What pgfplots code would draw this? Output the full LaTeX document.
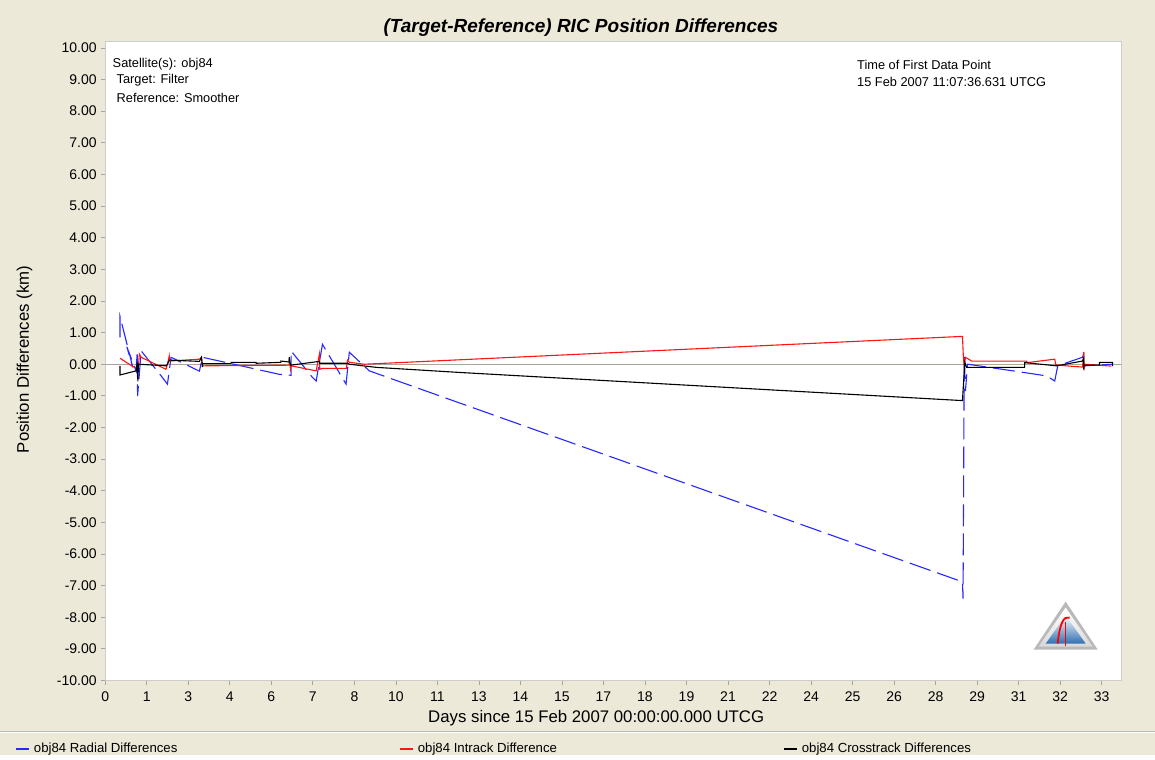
\documentclass[border=0pt]{standalone}
\usepackage{fontspec}
\setmainfont{Liberation Sans}
\usepackage{pgfplots}
\pgfplotsset{compat=1.18}
\definecolor{xpbg}{HTML}{ECE9D8}
\definecolor{zeroline}{HTML}{A9A79C}
\definecolor{radial}{HTML}{2828FF}
\definecolor{intrack}{HTML}{FF1414}
\definecolor{logoblue}{HTML}{2E6FB0}

\begin{document}
\begin{tikzpicture}[x=0.5pt,y=0.5pt]
% window background and the groove above the legend
\fill[xpbg] (0,0) rectangle (1155,756);
\draw[gray!55] (0,24) -- (1155,24);
\draw[white] (0,23) -- (1155,23);

\begin{axis}[at={(52.5pt,37.5pt)}, anchor=south west,
  scale only axis, width=508.5pt, height=320pt,
  xmin=0, xmax=34.03, ymin=-10, ymax=10.22,
  axis background/.style={fill=white},
  axis line style={draw=gray!40},
  tick align=outside, xtick pos=left, ytick pos=left,
  major tick length=2pt,
  tick style={gray!70, line width=0.4pt},
  /pgf/number format/assume math mode=true,
  ticklabel style={font=\fontsize{7}{8}\selectfont},
  ytick={-10,-9,...,10},
  yticklabel style={xshift=1.2pt, /pgf/number format/fixed, /pgf/number format/fixed zerofill, /pgf/number format/precision=2},
  xtick={0,1.39,2.78,4.17,5.56,6.95,8.34,9.73,11.12,12.51,13.90,15.29,16.68,18.07,19.46,20.85,22.24,23.63,25.02,26.41,27.80,29.19,30.58,31.97,33.36},
  xticklabels={0,1,3,4,6,7,8,10,11,13,14,15,17,18,19,21,22,24,25,26,28,29,31,32,33},
  clip mode=individual,
  legend style={at={(-0.0885,-0.107)}, anchor=west, draw=none, fill=none,
    legend columns=3, inner sep=0pt, font=\fontsize{6.6}{7.5}\selectfont,
    /tikz/every even column/.append style={column sep=0pt}},
  legend image code/.code={\draw[#1, solid, line width=0.6pt] (0pt,0pt) -- (6.5pt,0pt);},
]
% zero line
\addplot[zeroline, line width=0.5pt, forget plot] coordinates {(0,0) (34.03,0)};

% radial
\addplot[radial, line width=0.55pt, dash pattern=on 11pt off 3.5pt] coordinates {
(0.49,0.85) (0.49,1.52) (0.92,-0.10) (0.72,0.55) (1.03,-0.21) (1.07,0.41) (1.08,-1.01)
(1.20,0.42) (1.87,-0.37) (2.08,-0.63) (2.20,0.22) (2.87,-0.09) (3.15,-0.22) (3.25,0.22)
(5.83,-0.32) (6.22,-0.35) (6.22,0.42) (6.93,-0.41) (7.06,-0.53) (7.27,0.63) (8.06,-0.63)
(8.17,0.38) (8.84,-0.21) (28.70,-6.88) (28.72,-7.41) (28.76,0.30) (28.80,-0.85) (28.87,0.0)
(30.61,-0.24) (31.52,-0.37) (31.79,-0.53) (31.89,-0.05) (32.72,0.22) (32.76,0.32)
(32.77,-0.16) (32.79,-0.05) (33.73,0.0)};
\addlegendentry{\makebox[181pt][l]{obj84 Radial Differences}}

% intrack
\addplot[intrack, line width=0.55pt] coordinates {
(0.49,0.19) (0.90,-0.06) (1.10,-0.16) (1.14,0.32) (1.20,0.22) (2.03,-0.16) (2.08,0.0)
(2.14,0.26) (2.15,0.10) (3.15,0.16) (3.22,0.22) (3.25,-0.06) (3.32,-0.05) (6.16,-0.03)
(6.16,0.16) (6.20,-0.16) (6.22,-0.05) (7.06,-0.21) (7.17,0.32) (7.18,-0.16) (7.27,-0.13)
(8.07,-0.13) (8.11,0.13) (8.17,0.06) (8.67,0.0) (28.70,0.88) (28.73,0.25) (28.76,-0.09)
(28.80,0.22) (29.01,0.10) (30.85,0.10) (30.86,0.05) (31.79,0.16) (31.82,0.0) (31.89,-0.03)
(32.72,-0.09) (32.76,0.38) (32.77,-0.19) (32.79,0.0) (33.69,-0.06)};
\addlegendentry{\makebox[181pt][l]{obj84 Intrack Difference}}

% crosstrack
\addplot[black, line width=0.55pt] coordinates {
(0.49,-0.05) (0.49,-0.34) (1.03,-0.21) (1.07,0.06) (1.09,-0.54) (1.11,0.0) (2.04,-0.05)
(2.08,0.0) (2.14,0.13) (3.15,0.09) (3.22,0.22) (3.25,-0.09) (3.26,0.02) (4.21,0.02)
(4.21,0.06) (5.05,0.06) (5.05,0.03) (5.88,0.06) (5.88,0.10) (6.16,0.07) (6.16,0.22)
(6.20,-0.03) (7.17,0.09) (7.17,0.03) (8.11,0.03) (8.17,0.0) (9.08,-0.10) (11.86,-0.26)
(28.70,-1.15) (28.78,0.06) (28.84,-0.10) (30.78,-0.10) (30.78,0.05) (31.85,-0.05)
(32.72,0.10) (32.76,0.19) (32.76,-0.09) (32.79,-0.03) (33.29,-0.03) (33.29,0.06)
(33.73,0.06) (33.73,-0.06)};
\addlegendentry{obj84 Crosstrack Differences}

% annotations
\begin{scope}[every node/.style={inner sep=0pt, anchor=west, font=\fontsize{6.4}{7.5}\selectfont}]
\node at (rel axis cs:0.0069,0.964) {Satellite(s): obj84};
\node at (rel axis cs:0.0108,0.938) {Target: Filter};
\node at (rel axis cs:0.0108,0.911) {Reference: Smoother};
\node at (rel axis cs:0.7394,0.9625) {Time of First Data Point};
\node at (rel axis cs:0.7394,0.936) {15 Feb 2007 11:07:36.631 UTCG};
\end{scope}

% title and axis labels
\node[font=\fontsize{9.5}{11}\selectfont\bfseries\itshape] at (rel axis cs:0.468,1.0203) {(Target-Reference) RIC Position Differences};
\node[font=\fontsize{8.4}{10}\selectfont] at (rel axis cs:0.483,-0.059) {Days since 15 Feb 2007 00:00:00.000 UTCG};
\node[font=\fontsize{8.4}{10}\selectfont, rotate=90] at (rel axis cs:-0.0796,0.502) {Position Differences (km)};
\end{axis}

% logo
\fill[gray!55] (1066,154) -- (1034,106) -- (1098,106) -- cycle;
\shade[top color=white, bottom color=gray!30] (1066,148) -- (1039,109) -- (1093,109) -- cycle;
\shade[top color=white, bottom color=logoblue] (1066,140) -- (1046,112) -- (1086,112) -- cycle;
\draw[red, line width=0.9pt] (1058,112) .. controls (1060,132) and (1064,140) .. (1070,138);
\draw[red, line width=0.6pt] (1066,134) -- (1066,110);
\end{tikzpicture}
\end{document}
